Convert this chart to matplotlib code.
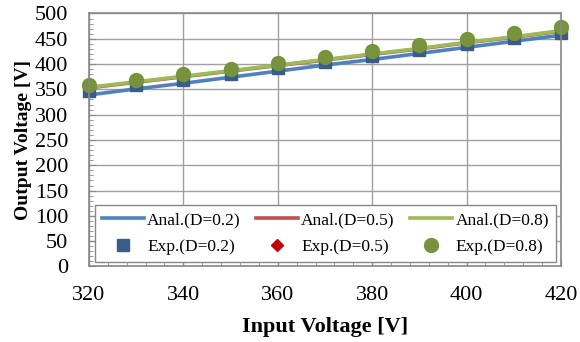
import numpy as np
import matplotlib.pyplot as plt
from matplotlib.ticker import MultipleLocator

plt.rcParams['font.family'] = ['Liberation Serif', 'DejaVu Serif']

vin = [320, 330, 340, 350, 360, 370, 380, 390, 400, 410, 420]

# analytical curves
anal_02 = [339, 351, 362, 374, 386, 398, 409, 421, 433, 445, 457]
anal_05 = [353, 364, 375, 386, 397, 408, 419, 430, 442, 453, 465]
anal_08 = [354, 365, 376, 387, 398, 409, 420, 431, 443, 454, 466]

# experimental points
exp_02 = [346, 358, 369, 381, 393, 405, 416, 428, 440, 451, 462]
exp_05 = [356, 367, 378, 389, 401, 412, 423, 435, 447, 458, 470]
exp_08 = [358, 369, 380, 391, 403, 414, 425, 437, 449, 461, 473]

fig = plt.figure(figsize=(5.8, 3.42), dpi=100)
ax = fig.add_axes([0.1534, 0.2208, 0.8138, 0.7398])

l1, = ax.plot(vin, anal_02, color='#4F81BD', lw=2.6, label='Anal.(D=0.2)')
l2, = ax.plot(vin, anal_05, color='#C0504D', lw=2.6, label='Anal.(D=0.5)')
l3, = ax.plot(vin, anal_08, color='#9BBB59', lw=2.6, label='Anal.(D=0.8)')
m1, = ax.plot(vin, exp_02, 's', color='#385D8A', ms=8.5, ls='none', label='Exp.(D=0.2)', clip_on=False)
m2, = ax.plot(vin, exp_05, 'D', color='#C00000', ms=6, ls='none', label='Exp.(D=0.5)', clip_on=False)
m3, = ax.plot(vin, exp_08, 'o', color='#77933C', ms=10, ls='none', label='Exp.(D=0.8)', clip_on=False)

ax.set_xlim(320, 420)
ax.set_ylim(0, 500)
ax.xaxis.set_major_locator(MultipleLocator(20))
ax.xaxis.set_minor_locator(MultipleLocator(4))
ax.yaxis.set_major_locator(MultipleLocator(50))
ax.yaxis.set_minor_locator(MultipleLocator(10))
ax.grid(True, which='major', color='#a0a0a0', lw=1)
ax.set_axisbelow(True)
ax.tick_params(which='both', direction='in', colors='#888888', labelcolor='black',
               labelsize=16, top=False, right=False)
ax.tick_params(which='major', length=5)
ax.tick_params(which='minor', length=3)
ax.tick_params(axis='x', pad=14)
ax.tick_params(axis='y', pad=15)
for s in ax.spines.values():
    s.set_color('#888888')
    s.set_linewidth(1.2)

ax.set_xlabel('Input Voltage [V]', fontsize=16, fontweight='bold', labelpad=9)
ax.set_ylabel('Output Voltage [V]', fontsize=14, fontweight='bold', labelpad=2)

handles = [l1, m1, l2, m2, l3, m3]
leg = ax.legend(handles=handles, ncol=3, loc='lower left', mode='expand',
                bbox_to_anchor=(0.013, 0.018, 0.976, 0.209), fontsize=12.5,
                numpoints=1, fancybox=False, framealpha=1, edgecolor='#888888',
                handlelength=2.4, handletextpad=0.2, borderaxespad=0,
                labelspacing=0.6, columnspacing=1.0)

fig.savefig('out.png', dpi=100)
